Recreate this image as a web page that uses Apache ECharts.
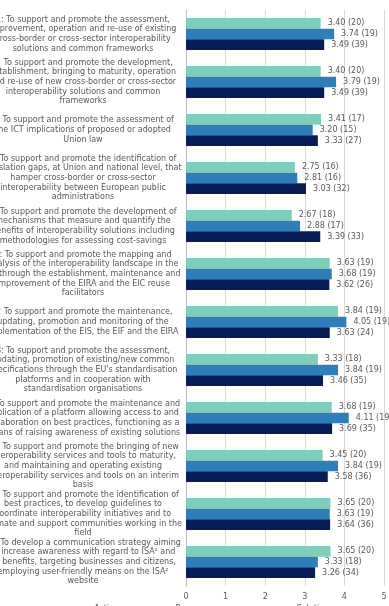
<!DOCTYPE html>
<html>
<head>
<meta charset="utf-8">
<script src="https://cdn.jsdelivr.net/npm/echarts@6/dist/echarts.min.js"></script>
<style>
html, body { margin: 0; padding: 0; background: #fff; }
#container { width: 389px; height: 606px; }
</style>
</head>
<body>
<div id="container"></div>
<script>
// objective labels (line breaks as in the source)
var objectives = [
	"1: To support and promote the assessment,\nimprovement, operation and re-use of existing\ncross-border or cross-sector interoperability\nsolutions and common frameworks",
	"2: To support and promote the development,\nestablishment, bringing to maturity, operation\nand re-use of new cross-border or cross-sector\ninteroperability solutions and common\nframeworks",
	"3: To support and promote the assessment of\nthe ICT implications of proposed or adopted\nUnion law",
	"4: To support and promote the identification of\nlegislation gaps, at Union and national level, that\nhamper cross-border or cross-sector\ninteroperability between European public\nadministrations",
	"5: To support and promote the development of\nmechanisms that measure and quantify the\nbenefits of interoperability solutions including\nmethodologies for assessing cost-savings",
	"6: To support and promote the mapping and\nanalysis of the interoperability landscape in the\nEU through the establishment, maintenance and\nimprovement of the EIRA and the EIC reuse\nfacilitators",
	"7: To support and promote the maintenance,\nupdating, promotion and monitoring of the\nimplementation of the EIS, the EIF and the EIRA",
	"8: To support and promote the assessment,\nupdating, promotion of existing/new common\nspecifications through the EU's standardisation\nplatforms and in cooperation with\nstandardisation organisations",
	"9: To support and promote the maintenance and\npublication of a platform allowing access to and\ncollaboration on best practices, functioning as a\nmeans of raising awareness of existing solutions",
	"10: To support and promote the bringing of new\ninteroperability services and tools to maturity,\nand maintaining and operating existing\ninteroperability services and tools on an interim\nbasis",
	"11: To support and promote the identification of\nbest practices, to develop guidelines to\ncoordinate interoperability initiatives and to\nanimate and support communities working in the\nfield",
	"12: To develop a communication strategy aiming\nto increase awareness with regard to ISA² and\nits benefits, targeting businesses and citizens,\nemploying user-friendly means on the ISA²\nwebsite"
];
var seriesNames = ['Action owners', 'Programme governance', 'Solution users'];

var ownersScore = [3.40, 3.40, 3.41, 2.75, 2.67, 3.63, 3.84, 3.33, 3.68, 3.45, 3.65, 3.65];
var ownersCount = [20, 20, 17, 16, 18, 19, 19, 18, 19, 20, 20, 20];
var governanceScore = [3.74, 3.79, 3.20, 2.81, 2.88, 3.68, 4.05, 3.84, 4.11, 3.84, 3.63, 3.33];
var governanceCount = [19, 19, 15, 16, 17, 19, 19, 19, 19, 19, 19, 18];
var usersScore = [3.49, 3.49, 3.33, 3.03, 3.39, 3.62, 3.63, 3.46, 3.69, 3.58, 3.64, 3.26];
var usersCount = [39, 39, 27, 32, 33, 26, 24, 35, 35, 36, 36, 34];

var xTicks = [0, 1, 2, 3, 4, 5];

var font = 'DejaVu Sans';
var grey = '#595959';

var myChart = echarts.init(document.getElementById('container'), null, { renderer: 'canvas' });

function makeSeries(name, scores, counts, color) {
	return {
		name: name,
		type: 'bar',
		barGap: '0%',
		barCategoryGap: '33%',
		itemStyle: { color: color },
		label: {
			show: true,
			position: 'right',
			distance: 7,
			color: grey,
			fontSize: 8,
			fontFamily: font,
			formatter: function(p) {
				return p.value.toFixed(2) + ' (' + counts[p.dataIndex] + ')';
			}
		},
		data: scores
	};
}

var option = {
	animation: false,
	backgroundColor: '#fff',
	textStyle: { fontFamily: font },
	legend: {
		data: seriesNames,
		left: 78,
		top: 600,
		itemGap: 14,
		itemWidth: 6,
		itemHeight: 6,
		icon: 'rect',
		textStyle: { color: grey, fontSize: 8, fontFamily: font }
	},
	grid: {
		left: 186,
		right: 5,
		top: 10,
		bottom: 20,
		containLabel: false,
		outerBoundsMode: 'none'
	},
	xAxis: {
		type: 'value',
		min: xTicks[0],
		max: xTicks[xTicks.length - 1],
		interval: 1,
		axisLine: { show: false },
		axisTick: { show: false },
		splitLine: { lineStyle: { color: '#D9D9D9', width: 1 } },
		axisLabel: { color: grey, fontSize: 8, fontFamily: font, margin: 7 }
	},
	yAxis: {
		type: 'category',
		inverse: true,
		data: objectives,
		axisLine: { show: true, lineStyle: { color: '#BFBFBF' } },
		axisTick: { show: false },
		axisLabel: {
			interval: 0,
			align: 'center',
			margin: 103,
			color: grey,
			fontSize: 8,
			lineHeight: 9.7,
			fontFamily: font
		}
	},
	series: [
		makeSeries(seriesNames[0], ownersScore, ownersCount, '#7FCDBB'),
		makeSeries(seriesNames[1], governanceScore, governanceCount, '#2C7FB8'),
		makeSeries(seriesNames[2], usersScore, usersCount, '#081D58')
	]
};
myChart.setOption(option);
</script>
</body>
</html>
